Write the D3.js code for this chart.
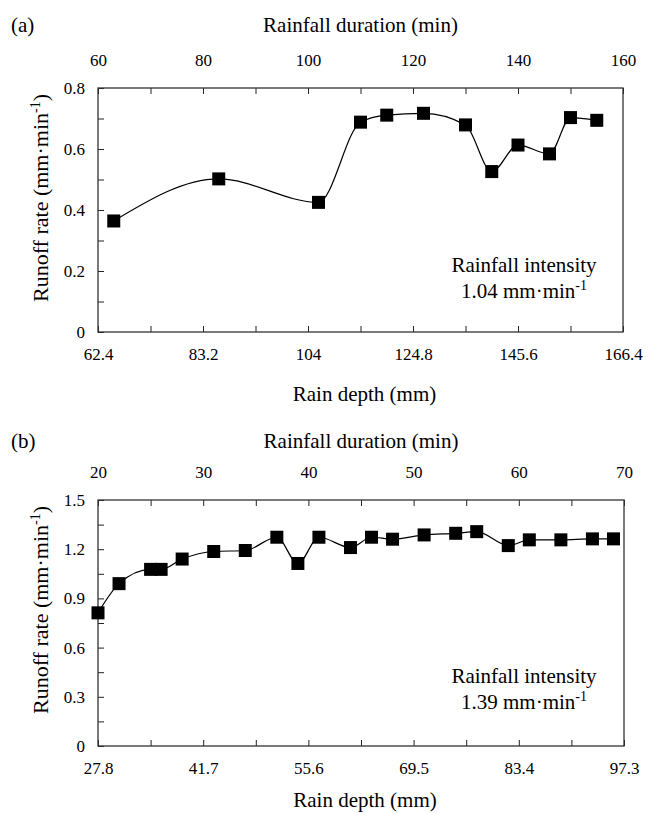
<!DOCTYPE html>
<html><head><meta charset="utf-8">
<script src="https://cdn.jsdelivr.net/npm/d3@7"></script>
<style>
body{margin:0;background:#fff}
</style>
</head><body><svg id="c" width="657" height="814"></svg>
<script>
// ---- data ----
const durationA = [63, 83, 102, 110, 115, 122, 130, 135, 140, 146, 150, 155];
const runoffA   = [0.364, 0.502, 0.425, 0.688, 0.711, 0.717, 0.679, 0.526, 0.613, 0.584, 0.703, 0.694];
const durationB = [20, 22, 25, 26, 28, 31, 34, 37, 39, 41, 44, 46, 48, 51, 54, 56, 59, 61, 64, 67, 69];
const runoffB   = [0.812, 0.99, 1.077, 1.077, 1.14, 1.186, 1.192, 1.273, 1.113, 1.273, 1.21, 1.273, 1.261, 1.287, 1.297, 1.307, 1.222, 1.257, 1.257, 1.263, 1.263];
const intensityA = "1.04", intensityB = "1.39";
const durTicksA = [60, 80, 100, 120, 140, 160];
const depthTicksA = ["62.4", "83.2", "104", "124.8", "145.6", "166.4"];
const runoffTicksA = [0, 0.2, 0.4, 0.6, 0.8];
const durTicksB = [20, 30, 40, 50, 60, 70];
const depthTicksB = ["27.8", "41.7", "55.6", "69.5", "83.4", "97.3"];
const runoffTicksB = [0, 0.3, 0.6, 0.9, 1.2, 1.5];

const FONT = "'Liberation Serif', 'DejaVu Serif', serif";
const svg = d3.select("#c").attr("font-family", FONT);

function panel(o) {
  const g = svg.append("g");
  const x = d3.scaleLinear().domain([o.durTicks[0], o.durTicks[o.durTicks.length-1]]).range([o.left, o.right]);
  const nD = o.depthTicks.length;
  const xd = d3.scaleLinear().domain([+o.depthTicks[0], +o.depthTicks[nD-1]]).range([o.left, o.right]);
  const y = d3.scaleLinear().domain([o.yTicks[0], o.yTicks[o.yTicks.length-1]]).range([o.bottom, o.top]);

  const mid = (arr) => { const r=[]; for (let i=0;i<arr.length;i++){ r.push(+arr[i]); if(i<arr.length-1) r.push((+arr[i]+ +arr[i+1])/2);} return r; };
  const topAll = mid(o.durTicks);
  const botAll = mid(o.depthTicks);
  const yAll = mid(o.yTicks);
  const isMajor = (arr) => (d) => arr.some(v => Math.abs(+v - d) < 1e-6);
  const style = a => { a.select(".domain").remove(); a.attr("font-family", FONT); a.selectAll("text").attr("font-size", 17); a.selectAll("line").attr("stroke", "#222"); };

  g.append("g").attr("transform", `translate(${o.left},0)`)
    .call(d3.axisLeft(y).tickValues(yAll).tickSizeInner(-6).tickSizeOuter(0).tickPadding(13)
      .tickFormat(d => isMajor(o.yTicks)(d) ? String(+d.toFixed(2)) : ""))
    .call(style);
  g.append("g").attr("transform", `translate(0,${o.top})`)
    .call(d3.axisTop(x).tickValues(topAll).tickSizeInner(-6).tickSizeOuter(0).tickPadding(o.topPad)
      .tickFormat(d => isMajor(o.durTicks)(d) ? String(d) : ""))
    .call(style);
  const depthLabel = {}; o.depthTicks.forEach(t => depthLabel[(+t).toFixed(3)] = t);
  g.append("g").attr("transform", `translate(0,${o.bottom})`)
    .call(d3.axisBottom(xd).tickValues(botAll).tickSizeInner(-6).tickSizeOuter(0).tickPadding(o.botPad)
      .tickFormat(d => depthLabel[d.toFixed(3)] || ""))
    .call(style);

  g.append("rect").attr("x", o.left).attr("y", o.top).attr("width", o.right - o.left).attr("height", o.bottom - o.top)
    .attr("fill", "none").attr("stroke", "#333").attr("stroke-width", 1.3);

  const pts = o.dur.map((d, i) => [x(d), y(o.run[i])]);
  g.append("path").attr("d", d3.line().curve(d3.curveMonotoneX)(pts))
    .attr("fill", "none").attr("stroke", "#000").attr("stroke-width", 1.2);
  g.selectAll("rect.m").data(pts).join("rect").attr("class", "m")
    .attr("x", d => d[0] - 6.5).attr("y", d => d[1] - 6.5).attr("width", 13).attr("height", 13).attr("fill", "#000");

  g.append("text").attr("x", 11).attr("y", o.titleTopY).attr("font-size", 21).text(o.tag);
  g.append("text").attr("x", (o.left + o.right) / 2).attr("y", o.titleTopY).attr("text-anchor", "middle").attr("font-size", 21).text("Rainfall duration (min)");
  g.append("text").attr("x", (o.left + o.right) / 2 + 4).attr("y", o.titleBotY).attr("text-anchor", "middle").attr("font-size", 21).text("Rain depth (mm)");

  const yt = g.append("text").attr("transform", `translate(48,${o.yTitleY}) rotate(-90)`).attr("text-anchor", "middle").attr("font-size", 22);
  yt.append("tspan").text("Runoff rate (mm·min");
  yt.append("tspan").attr("dy", -8).attr("font-size", 14).text("-1");
  yt.append("tspan").attr("dy", 8).text(")");

  g.append("text").attr("x", o.annX).attr("y", o.annY).attr("text-anchor", "middle").attr("font-size", 21).text("Rainfall intensity");
  const a2 = g.append("text").attr("x", o.annX).attr("y", o.annY + 26).attr("text-anchor", "middle").attr("font-size", 21);
  a2.append("tspan").text(o.intensity + " mm·min");
  a2.append("tspan").attr("dy", -8).attr("font-size", 14).text("-1");
}

panel({
  tag: "(a)", dur: durationA, run: runoffA, durTicks: durTicksA, depthTicks: depthTicksA, yTicks: runoffTicksA,
  left: 98, right: 623, top: 88, bottom: 332, topPad: 22, botPad: 16,
  titleTopY: 32, titleBotY: 401, yTitleY: 198, annX: 524, annY: 272, intensity: intensityA
});
panel({
  tag: "(b)", dur: durationB, run: runoffB, durTicks: durTicksB, depthTicks: depthTicksB, yTicks: runoffTicksB,
  left: 98, right: 624, top: 500, bottom: 746, topPad: 22, botPad: 16,
  titleTopY: 448, titleBotY: 807, yTitleY: 610, annX: 524, annY: 683, intensity: intensityB
});
svg.selectAll("text").attr("font-family", FONT).attr("fill", "#000");
</script></body></html>
